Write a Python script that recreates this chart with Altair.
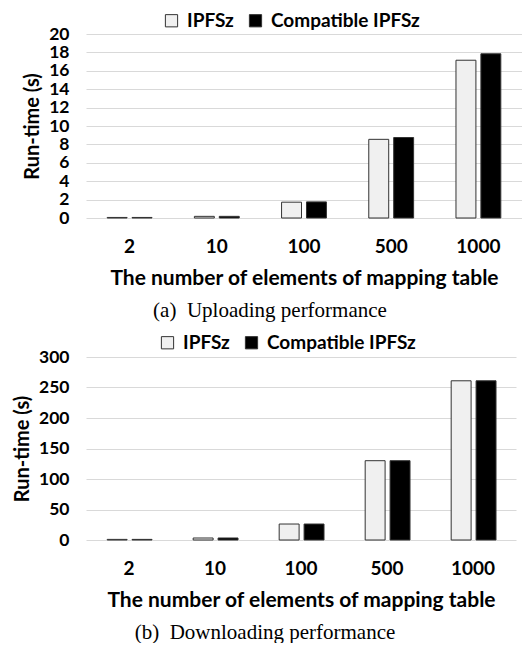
import altair as alt
import pandas as pd

categories = ["2", "10", "100", "500", "1000"]
series = ["IPFSz", "Compatible IPFSz"]
upload_ipfsz = [0.06, 0.18, 1.72, 8.55, 17.15]
upload_compat = [0.06, 0.18, 1.75, 8.75, 17.85]
download_ipfsz = [1.0, 3.3, 26.2, 130, 261]
download_compat = [1.0, 3.3, 26.2, 130, 261]

FONT = "Lato"


def make_df(a, b):
    rows = []
    for c, v in zip(categories, a):
        rows.append({"n": c, "s": series[0], "v": v})
    for c, v in zip(categories, b):
        rows.append({"n": c, "s": series[1], "v": v})
    return pd.DataFrame(rows)


def panel(df, ymax, ystep, w, h, caption, lx, ly, cdx):
    return (
        alt.Chart(df)
        .mark_bar(stroke="#333333", strokeWidth=1)
        .encode(
            x=alt.X(
                "n:N",
                sort=categories,
                scale=alt.Scale(paddingInner=0, paddingOuter=0),
                axis=alt.Axis(
                    title="The number of elements of mapping table",
                    titleFontSize=21,
                    labelFontSize=19,
                    labelAngle=0,
                    domain=False,
                    ticks=False,
                    labelPadding=19,
                    titlePadding=11,
                ),
            ),
            xOffset=alt.XOffset(
                "s:N", sort=series, scale=alt.Scale(paddingInner=0.2, paddingOuter=0.85)
            ),
            y=alt.Y(
                "v:Q",
                scale=alt.Scale(domain=[0, ymax], nice=False),
                axis=alt.Axis(
                    title="Run-time (s)",
                    titleFontSize=20,
                    labelFontSize=17.5,
                    values=list(range(0, ymax + 1, ystep)),
                    labelOverlap=False,
                    domain=False,
                    ticks=False,
                    labelPadding=17,
                    titlePadding=6,
                ),
            ),
            color=alt.Color(
                "s:N",
                sort=series,
                scale=alt.Scale(domain=series, range=["#f0f0f0", "#000000"]),
                legend=alt.Legend(
                    title=None,
                    orient="none",
                    direction="horizontal",
                    legendX=lx,
                    legendY=ly,
                    padding=0,
                    symbolType="square",
                    symbolSize=150,
                    symbolStrokeColor="#333333",
                    symbolStrokeWidth=1,
                    labelFontSize=19,
                    labelFont=FONT,
                    labelFontWeight="bold",
                    labelColor="#000000",
                    columnPadding=12,
                    labelOffset=6,
                ),
            ),
        )
        .properties(
            width=w,
            height=h,
            title=alt.TitleParams(
                caption,
                orient="bottom",
                font="Liberation Serif",
                fontSize=21,
                fontWeight="normal",
                color="#000000",
                offset=12,
                dx=cdx,
            ),
        )
    )


top = panel(make_df(upload_ipfsz, upload_compat), 20, 2, 436, 184,
            "(a)\u00a0\u00a0Uploading performance", 76, -23, -34)
bottom = panel(make_df(download_ipfsz, download_compat), 300, 50, 430, 183,
               "(b)\u00a0\u00a0Downloading performance", 72, -24, -36)

chart = (
    alt.concat(top, bottom, columns=1, spacing=12)
    .properties(padding={"left": 4, "top": 3, "right": 0, "bottom": 0})
    .resolve_scale(color="independent")
    .configure_view(stroke=None)
    .configure_axis(
        labelFont=FONT,
        titleFont=FONT,
        labelFontWeight="bold",
        titleFontWeight="bold",
        labelColor="#000000",
        titleColor="#000000",
        gridColor="#d9d9d9",
        gridWidth=1,
    )
)

chart.save("out.html", embed_options={"renderer": "svg", "actions": False})
